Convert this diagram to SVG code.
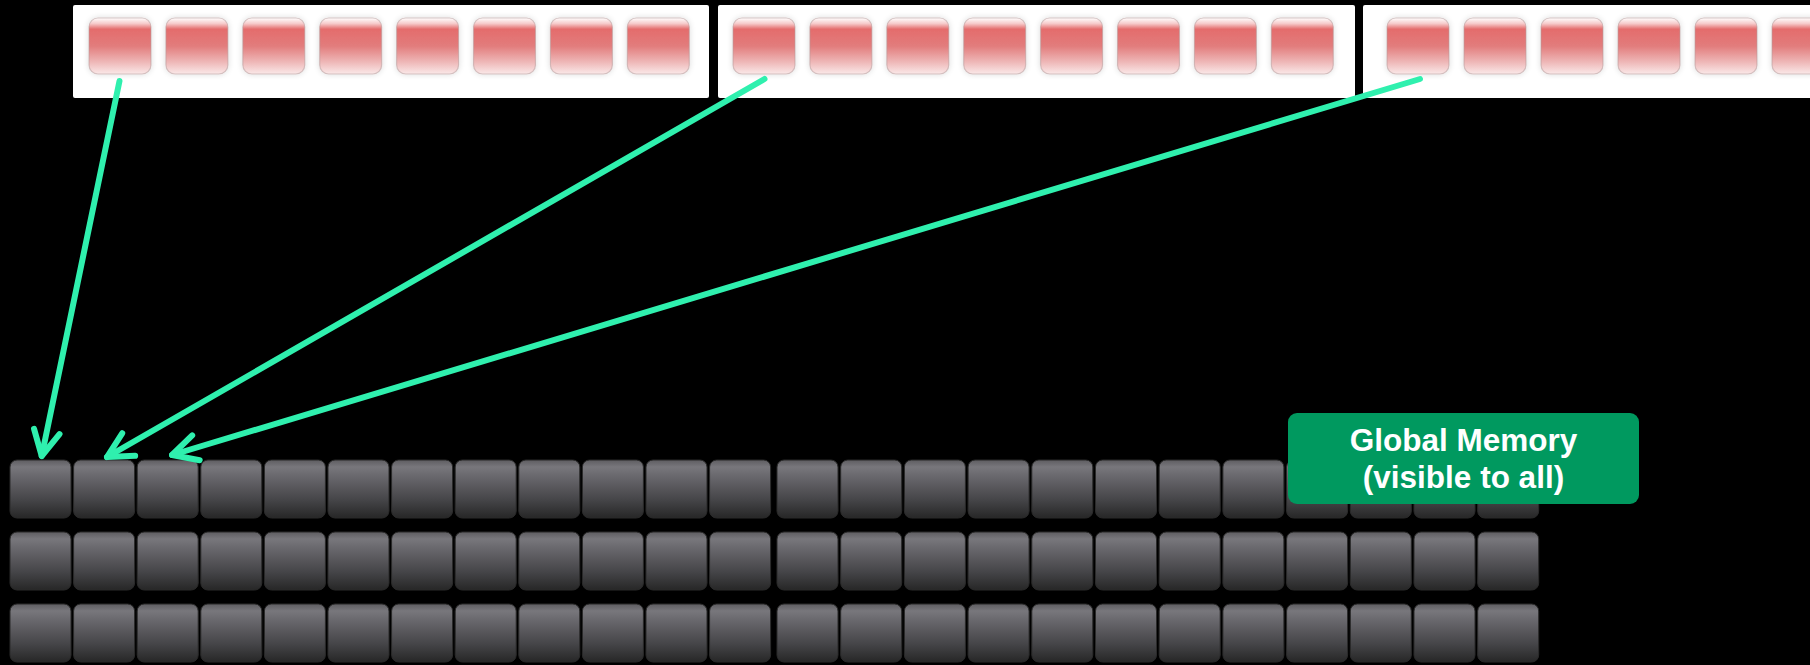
<svg xmlns="http://www.w3.org/2000/svg" xmlns:xlink="http://www.w3.org/1999/xlink" width="1810" height="665" viewBox="0 0 1810 665">
<style>
.panel{fill:#ffffff}
.lbl{font-family:"Liberation Sans",Arial,sans-serif;font-weight:bold;font-size:31.5px;fill:#ffffff;text-anchor:middle}
.conn{fill:none;stroke:#2ff0ae;stroke-width:6;stroke-linecap:round;stroke-linejoin:round}
</style>
<defs>
<linearGradient id="gRed" x1="0" y1="0" x2="0" y2="1">
<stop offset="0" stop-color="#ffffff"/>
<stop offset="0.1" stop-color="#f6caca"/>
<stop offset="0.2" stop-color="#e46c6c"/>
<stop offset="0.5" stop-color="#e27c7c"/>
<stop offset="0.78" stop-color="#eeb6b6"/>
<stop offset="1" stop-color="#fae8e8"/>
</linearGradient>
<linearGradient id="gGray" x1="0" y1="0" x2="0" y2="1">
<stop offset="0" stop-color="#5e5d61"/>
<stop offset="0.12" stop-color="#78777c"/>
<stop offset="0.3" stop-color="#67666b"/>
<stop offset="0.7" stop-color="#444447"/>
<stop offset="1" stop-color="#272727"/>
</linearGradient>
<filter id="glow" x="-20%" y="-20%" width="140%" height="140%">
<feGaussianBlur in="SourceAlpha" stdDeviation="3"/>
<feComponentTransfer><feFuncA type="linear" slope="0.15"/></feComponentTransfer>
<feMerge><feMergeNode/><feMergeNode in="SourceGraphic"/></feMerge>
</filter>
<g id="redCell">
<rect x="0" y="0" width="62" height="56" rx="9" fill="url(#gRed)" stroke="#b89a9a" stroke-width="1.2" stroke-opacity="0.55" filter="url(#glow)"/>
</g>
<g id="grayCell">
<rect x="0" y="0" width="61" height="58" rx="7" fill="url(#gGray)" stroke="#2a2a2a" stroke-width="1"/>
</g>
<marker id="head" markerUnits="userSpaceOnUse" markerWidth="40" markerHeight="40" refX="0" refY="0" viewBox="-30 -20 40 40" orient="auto" overflow="visible">
<path d="M -25 -13 L 0 0 L -25 13" fill="none" stroke="#2ff0ae" stroke-width="6" stroke-linecap="round" stroke-linejoin="round"/>
</marker>
</defs>
<rect x="0" y="0" width="1810" height="665" fill="#000000"/>

<g id="block1">
<rect class="panel" x="73" y="5" width="636" height="93" rx="2"/>
<use xlink:href="#redCell" x="89" y="18"/>
<use xlink:href="#redCell" x="165.9" y="18"/>
<use xlink:href="#redCell" x="242.8" y="18"/>
<use xlink:href="#redCell" x="319.7" y="18"/>
<use xlink:href="#redCell" x="396.6" y="18"/>
<use xlink:href="#redCell" x="473.5" y="18"/>
<use xlink:href="#redCell" x="550.4" y="18"/>
<use xlink:href="#redCell" x="627.3" y="18"/>
</g>
<g id="block2">
<rect class="panel" x="718" y="5" width="637" height="93" rx="2"/>
<use xlink:href="#redCell" x="733" y="18"/>
<use xlink:href="#redCell" x="809.9" y="18"/>
<use xlink:href="#redCell" x="886.8" y="18"/>
<use xlink:href="#redCell" x="963.7" y="18"/>
<use xlink:href="#redCell" x="1040.6" y="18"/>
<use xlink:href="#redCell" x="1117.5" y="18"/>
<use xlink:href="#redCell" x="1194.4" y="18"/>
<use xlink:href="#redCell" x="1271.3" y="18"/>
</g>
<g id="block3">
<rect class="panel" x="1363" y="5" width="460" height="93" rx="2"/>
<use xlink:href="#redCell" x="1387" y="18"/>
<use xlink:href="#redCell" x="1464" y="18"/>
<use xlink:href="#redCell" x="1541" y="18"/>
<use xlink:href="#redCell" x="1618" y="18"/>
<use xlink:href="#redCell" x="1695" y="18"/>
<use xlink:href="#redCell" x="1772" y="18"/>
</g>

<g id="globalMemoryCells">
<g id="row1">
<use xlink:href="#grayCell" x="10" y="460"/><use xlink:href="#grayCell" x="73.6" y="460"/><use xlink:href="#grayCell" x="137.2" y="460"/><use xlink:href="#grayCell" x="200.8" y="460"/><use xlink:href="#grayCell" x="264.4" y="460"/><use xlink:href="#grayCell" x="328" y="460"/><use xlink:href="#grayCell" x="391.6" y="460"/><use xlink:href="#grayCell" x="455.2" y="460"/><use xlink:href="#grayCell" x="518.8" y="460"/><use xlink:href="#grayCell" x="582.4" y="460"/><use xlink:href="#grayCell" x="646" y="460"/><use xlink:href="#grayCell" x="709.6" y="460"/>
<use xlink:href="#grayCell" x="777" y="460"/><use xlink:href="#grayCell" x="840.7" y="460"/><use xlink:href="#grayCell" x="904.4" y="460"/><use xlink:href="#grayCell" x="968.1" y="460"/><use xlink:href="#grayCell" x="1031.8" y="460"/><use xlink:href="#grayCell" x="1095.5" y="460"/><use xlink:href="#grayCell" x="1159.2" y="460"/><use xlink:href="#grayCell" x="1222.9" y="460"/><use xlink:href="#grayCell" x="1286.6" y="460"/><use xlink:href="#grayCell" x="1350.3" y="460"/><use xlink:href="#grayCell" x="1414" y="460"/><use xlink:href="#grayCell" x="1477.7" y="460"/>
</g>
<g id="row2">
<use xlink:href="#grayCell" x="10" y="532"/><use xlink:href="#grayCell" x="73.6" y="532"/><use xlink:href="#grayCell" x="137.2" y="532"/><use xlink:href="#grayCell" x="200.8" y="532"/><use xlink:href="#grayCell" x="264.4" y="532"/><use xlink:href="#grayCell" x="328" y="532"/><use xlink:href="#grayCell" x="391.6" y="532"/><use xlink:href="#grayCell" x="455.2" y="532"/><use xlink:href="#grayCell" x="518.8" y="532"/><use xlink:href="#grayCell" x="582.4" y="532"/><use xlink:href="#grayCell" x="646" y="532"/><use xlink:href="#grayCell" x="709.6" y="532"/>
<use xlink:href="#grayCell" x="777" y="532"/><use xlink:href="#grayCell" x="840.7" y="532"/><use xlink:href="#grayCell" x="904.4" y="532"/><use xlink:href="#grayCell" x="968.1" y="532"/><use xlink:href="#grayCell" x="1031.8" y="532"/><use xlink:href="#grayCell" x="1095.5" y="532"/><use xlink:href="#grayCell" x="1159.2" y="532"/><use xlink:href="#grayCell" x="1222.9" y="532"/><use xlink:href="#grayCell" x="1286.6" y="532"/><use xlink:href="#grayCell" x="1350.3" y="532"/><use xlink:href="#grayCell" x="1414" y="532"/><use xlink:href="#grayCell" x="1477.7" y="532"/>
</g>
<g id="row3">
<use xlink:href="#grayCell" x="10" y="604"/><use xlink:href="#grayCell" x="73.6" y="604"/><use xlink:href="#grayCell" x="137.2" y="604"/><use xlink:href="#grayCell" x="200.8" y="604"/><use xlink:href="#grayCell" x="264.4" y="604"/><use xlink:href="#grayCell" x="328" y="604"/><use xlink:href="#grayCell" x="391.6" y="604"/><use xlink:href="#grayCell" x="455.2" y="604"/><use xlink:href="#grayCell" x="518.8" y="604"/><use xlink:href="#grayCell" x="582.4" y="604"/><use xlink:href="#grayCell" x="646" y="604"/><use xlink:href="#grayCell" x="709.6" y="604"/>
<use xlink:href="#grayCell" x="777" y="604"/><use xlink:href="#grayCell" x="840.7" y="604"/><use xlink:href="#grayCell" x="904.4" y="604"/><use xlink:href="#grayCell" x="968.1" y="604"/><use xlink:href="#grayCell" x="1031.8" y="604"/><use xlink:href="#grayCell" x="1095.5" y="604"/><use xlink:href="#grayCell" x="1159.2" y="604"/><use xlink:href="#grayCell" x="1222.9" y="604"/><use xlink:href="#grayCell" x="1286.6" y="604"/><use xlink:href="#grayCell" x="1350.3" y="604"/><use xlink:href="#grayCell" x="1414" y="604"/><use xlink:href="#grayCell" x="1477.7" y="604"/>
</g>
</g>

<g id="connectors">
<path class="conn" d="M 119.5 81 L 41.7 456" marker-end="url(#head)"/>
<path class="conn" d="M 764.5 79 L 107 457" marker-end="url(#head)"/>
<path class="conn" d="M 1420 79 L 172 455" marker-end="url(#head)"/>
</g>

<g id="globalMemoryLabel">
<rect x="1288" y="413" width="351" height="91" rx="9" fill="#00995f"/>
<text class="lbl" x="1463.5" y="450.5">Global Memory</text>
<text class="lbl" x="1463.5" y="488">(visible to all)</text>
</g>
</svg>
